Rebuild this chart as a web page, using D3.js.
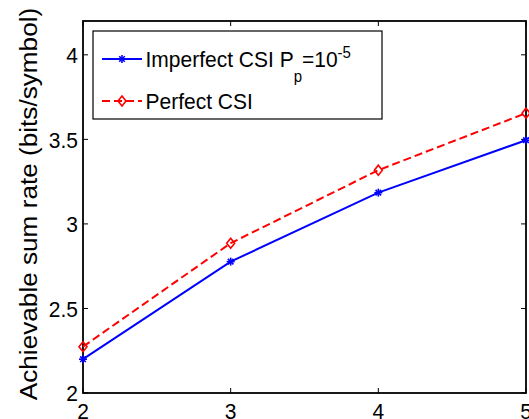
<!DOCTYPE html>
<html>
<head>
<meta charset="utf-8">
<script src="https://cdn.jsdelivr.net/npm/d3@7"></script>
<style>
  body { margin: 0; background: #fff; }
  text { font-family: "Liberation Sans", Arial, sans-serif; fill: #000; }
</style>
</head>
<body>
<svg id="chart" width="529" height="419"></svg>
<script>
const xValues = [2, 3, 4, 5]
const imperfectCsi = [2.20, 2.777, 3.185, 3.495]
const perfectCsi = [2.274, 2.886, 3.318, 3.655]
const xTicks = [2, 3, 4, 5]
const yTicks = [2, 2.5, 3, 3.5, 4]

const margin = { left: 83, right: 3, top: 21, bottom: 26 }
const width = 529
const height = 419
// the original figure is a bit taller than wide, so text is stretched vertically
const stretch = 1.09

const svg = d3.select('#chart')

const x = d3.scaleLinear().domain([2, 5]).range([margin.left, width - margin.right])
const y = d3.scaleLinear().domain([2, 4.2]).range([height - margin.bottom, margin.top])

const x0 = x.range()[0], x1 = x.range()[1]
const y0 = y.range()[0], y1 = y.range()[1]

function label(g, tx, ty, size) {
  return g.append('text')
    .attr('transform', `translate(${tx},${ty}) scale(1,${stretch})`)
    .attr('font-size', size)
}

// inward ticks on all four sides, matlab style
const tickLen = 5
const frame = svg.append('g').attr('stroke', '#000').attr('stroke-width', 1)

frame.selectAll('.tb').data(xTicks).join('line')
  .attr('x1', d => x(d)).attr('x2', d => x(d))
  .attr('y1', y0).attr('y2', y0 - tickLen)
frame.selectAll('.tt').data(xTicks).join('line')
  .attr('x1', d => x(d)).attr('x2', d => x(d))
  .attr('y1', y1).attr('y2', y1 + tickLen)
frame.selectAll('.tl').data(yTicks).join('line')
  .attr('x1', x0).attr('x2', x0 + tickLen)
  .attr('y1', d => y(d)).attr('y2', d => y(d))
frame.selectAll('.tr').data(yTicks).join('line')
  .attr('x1', x1).attr('x2', x1 - tickLen)
  .attr('y1', d => y(d)).attr('y2', d => y(d))

svg.append('rect')
  .attr('x', x0).attr('y', y1)
  .attr('width', x1 - x0).attr('height', y0 - y1)
  .attr('fill', 'none').attr('stroke', '#000').attr('stroke-width', 1.8)

const yLab = svg.append('g')
yTicks.forEach(d => {
  label(yLab, 78, y(d) + 8.2, 21).attr('text-anchor', 'end').text(d)
})

const xLab = svg.append('g')
xTicks.forEach(d => {
  label(xLab, x(d), 418.5, 21).attr('text-anchor', 'middle').text(d)
})

svg.append('text')
  .attr('transform', `translate(37,204) scale(1,${stretch}) rotate(-90)`)
  .attr('text-anchor', 'middle')
  .attr('font-size', 24)
  .text('Achievable sum rate (bits/symbol)')

// series
const line = d3.line().x(d => x(d[0])).y(d => y(d[1]))

const series = [
  { values: imperfectCsi, color: '#0000ff', dash: null, marker: 'star' },
  { values: perfectCsi, color: '#ff0000', dash: '8,4', marker: 'diamond' }
]

function drawMarker(g, type, color, cx, cy) {
  if (type === 'star') {
    const r = 4
    const m = g.append('g').attr('stroke', color).attr('stroke-width', 1.6)
    m.append('line').attr('x1', cx - r).attr('x2', cx + r).attr('y1', cy).attr('y2', cy)
    m.append('line').attr('x1', cx).attr('x2', cx).attr('y1', cy - r).attr('y2', cy + r)
    m.append('line').attr('x1', cx - r * 0.7).attr('x2', cx + r * 0.7).attr('y1', cy - r * 0.7).attr('y2', cy + r * 0.7)
    m.append('line').attr('x1', cx - r * 0.7).attr('x2', cx + r * 0.7).attr('y1', cy + r * 0.7).attr('y2', cy - r * 0.7)
  } else {
    const r = 5
    g.append('path')
      .attr('d', `M${cx},${cy - r}L${cx + r * 0.8},${cy}L${cx},${cy + r}L${cx - r * 0.8},${cy}Z`)
      .attr('fill', 'none').attr('stroke', color).attr('stroke-width', 1.6)
  }
}

series.forEach(s => {
  const pts = xValues.map((v, i) => [v, s.values[i]])
  svg.append('path')
    .attr('d', line(pts))
    .attr('fill', 'none')
    .attr('stroke', s.color)
    .attr('stroke-width', 2)
    .attr('stroke-dasharray', s.dash)
  const g = svg.append('g')
  pts.forEach(p => drawMarker(g, s.marker, s.color, x(p[0]), y(p[1])))
})

// legend
const legend = svg.append('g')
legend.append('rect')
  .attr('x', 93).attr('y', 31).attr('width', 289).attr('height', 88)
  .attr('fill', '#fff').attr('stroke', '#000').attr('stroke-width', 1.2)

const legendRows = [
  { y: 59, s: series[0] },
  { y: 101, s: series[1] }
]
legendRows.forEach(r => {
  legend.append('line')
    .attr('x1', 102).attr('x2', 142).attr('y1', r.y).attr('y2', r.y)
    .attr('stroke', r.s.color).attr('stroke-width', 2)
    .attr('stroke-dasharray', r.s.dash)
  drawMarker(legend, r.s.marker, r.s.color, 122, r.y)
})

const t1 = label(legend, 145.5, 66.5, 21)
t1.append('tspan').text('Imperfect CSI P')
t1.append('tspan').attr('font-size', 15).attr('dy', 14).text('p')
t1.append('tspan').attr('dy', -14).text('=10')
t1.append('tspan').attr('font-size', 15).attr('dy', -8).text('-5')

label(legend, 145.5, 109, 21).text('Perfect CSI')
</script>
</body>
</html>
